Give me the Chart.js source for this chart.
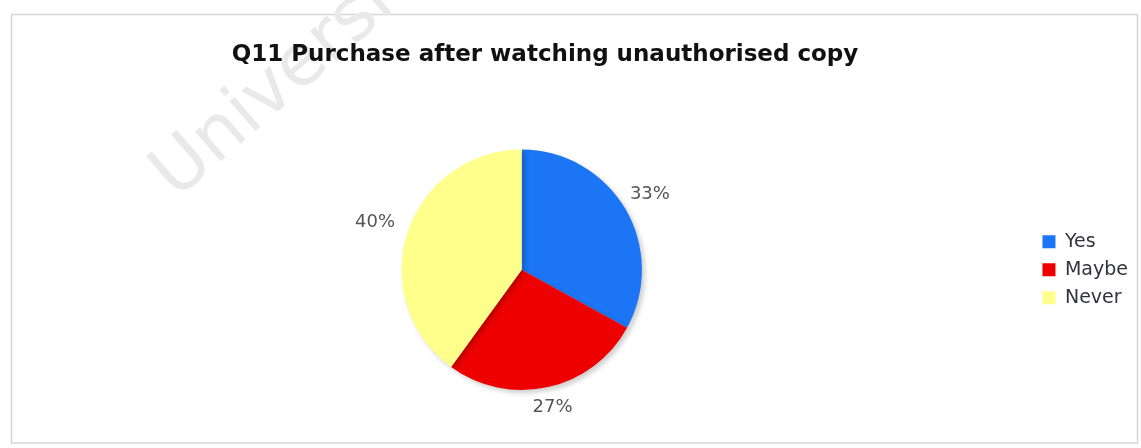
<!DOCTYPE html>
<html>
<head>
<meta charset="utf-8">
<script src="https://cdn.jsdelivr.net/npm/chart.js@4.4.1/dist/chart.umd.min.js"></script>
<style>
  html, body { margin: 0; padding: 0; background: #ffffff; }
  #c { display: block; }
</style>
</head>
<body>
<canvas id="c" width="1141" height="448"></canvas>
<script>
// Survey answers for Q11
const categories = ['Yes', 'Maybe', 'Never'];
const shares = [33, 27, 40];
const sliceColors = ['#1b75f5', '#ee0000', '#ffff8c'];
const chartTitle = 'Q11 Purchase after watching unauthorised copy';
const watermarkText = 'University';

// Page frame and faint diagonal watermark behind the chart
const backdrop = {
  id: 'backdrop',
  beforeDraw(chart) {
    const ctx = chart.ctx;
    ctx.save();
    ctx.fillStyle = '#ffffff';
    ctx.fillRect(0, 0, chart.width, chart.height);
    ctx.strokeStyle = '#d6d6d6';
    ctx.lineWidth = 1.5;
    ctx.strokeRect(11.5, 14.5, 1126, 428.5);
    ctx.translate(176, 200);
    ctx.rotate(-41 * Math.PI / 180);
    ctx.fillStyle = '#e9e9e9';
    ctx.font = '72px "DejaVu Sans"';
    ctx.textBaseline = 'alphabetic';
    ctx.fillText(watermarkText, 0, 0);
    ctx.restore();
  }
};

// Keep the title centred over the page body rather than the pie area
const titlePlacement = {
  id: 'titlePlacement',
  afterLayout(chart) {
    const t = chart.titleBlock;
    const shift = 545 - (t.left + t.right) / 2;
    t.left += shift;
    t.right += shift;
  }
};

// Soft drop shadow under the pie
const pieShadow = {
  id: 'pieShadow',
  beforeDatasetDraw(chart) {
    const ctx = chart.ctx;
    ctx.save();
    ctx.shadowColor = 'rgba(0,0,0,0.2)';
    ctx.shadowBlur = 5;
    ctx.shadowOffsetX = 3;
    ctx.shadowOffsetY = 3;
  },
  afterDatasetDraw(chart) {
    chart.ctx.restore();
  }
};

// Percentage labels placed just outside each slice
const outsideLabels = {
  id: 'outsideLabels',
  afterDatasetsDraw(chart) {
    const ctx = chart.ctx;
    const meta = chart.getDatasetMeta(0);
    const total = shares.reduce((a, b) => a + b, 0);
    ctx.save();
    ctx.font = '18px "DejaVu Sans"';
    ctx.fillStyle = '#555555';
    ctx.textAlign = 'center';
    ctx.textBaseline = 'middle';
    const gap = 13;
    meta.data.forEach((arc, i) => {
      const p = arc.getProps(['x', 'y', 'startAngle', 'endAngle', 'outerRadius'], true);
      const mid = (p.startAngle + p.endAngle) / 2;
      const dx = Math.cos(mid), dy = Math.sin(mid);
      const text = Math.round(shares[i] / total * 100) + '%';
      const hw = ctx.measureText(text).width / 2, hh = 8;
      const ex = Math.abs(dx) > 1e-6 ? hw / Math.abs(dx) : Infinity;
      const ey = Math.abs(dy) > 1e-6 ? hh / Math.abs(dy) : Infinity;
      const r = p.outerRadius + gap + Math.min(ex, ey);
      ctx.fillText(text, p.x + dx * r, p.y + dy * r);
    });
    ctx.restore();
  }
};

new Chart(document.getElementById('c'), {
  type: 'pie',
  data: {
    labels: categories,
    datasets: [{
      data: shares,
      backgroundColor: sliceColors,
      borderWidth: 0
    }]
  },
  options: {
    responsive: false,
    animation: false,
    devicePixelRatio: 1,
    layout: { padding: { left: 10, right: 3, top: 0, bottom: 58 } },
    plugins: {
      title: {
        display: true,
        text: chartTitle,
        color: '#111111',
        font: { family: 'DejaVu Sans', size: 23, weight: 'bold' },
        padding: { top: 41, bottom: 81 }
      },
      legend: {
        position: 'right',
        fullSize: false,
        labels: {
          boxWidth: 13,
          boxHeight: 13,
          padding: 9,
          color: '#333340',
          font: { family: 'DejaVu Sans', size: 19 }
        }
      },
      tooltip: { enabled: false }
    }
  },
  plugins: [backdrop, titlePlacement, pieShadow, outsideLabels]
});
</script>
</body>
</html>
